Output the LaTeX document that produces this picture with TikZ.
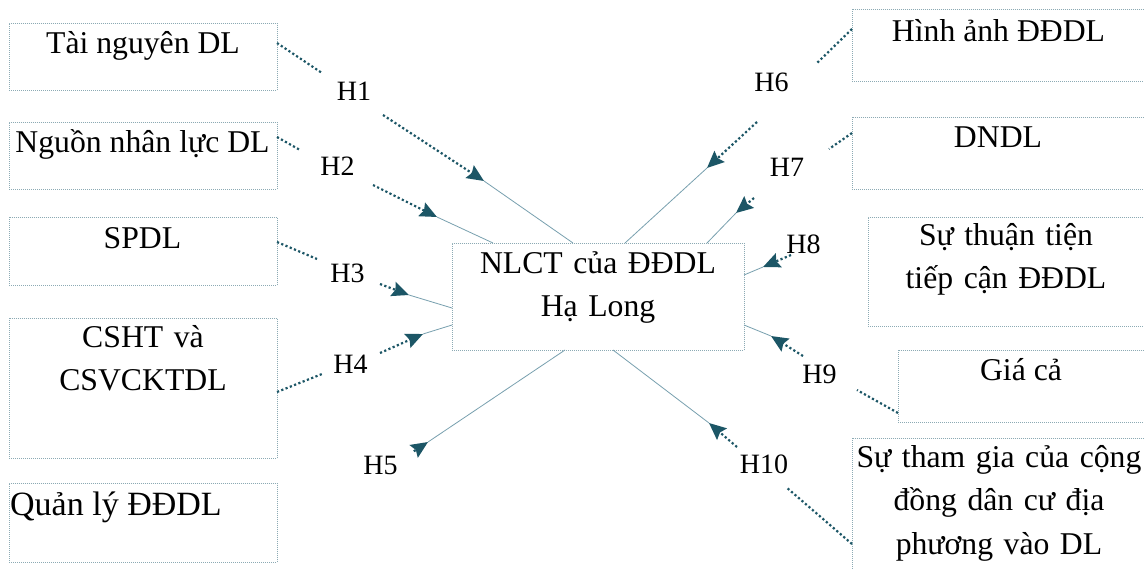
\documentclass[tikz,border=0pt]{standalone}
\usepackage{fontspec}
\setmainfont{Liberation Serif}
\usetikzlibrary{arrows.meta}
\definecolor{tealdark}{RGB}{28,86,102}
\definecolor{tealline}{RGB}{120,160,175}
\definecolor{boxline}{RGB}{140,170,180}
\begin{document}
\begin{tikzpicture}[x=1pt,y=-1pt,
  frame/.style={draw=boxline, line width=0.8pt, dash pattern=on 1pt off 1pt, inner sep=0pt, anchor=north west},
  txt/.style={inner sep=0pt, font=\fontsize{31.7}{43.5}\selectfont, anchor=base},
  mtxt/.style={txt, align=center, text width=#1},
  hl/.style={inner sep=0pt, font=\fontsize{28}{32}\selectfont, anchor=base},
  dots/.style={draw=tealdark, line width=2.2pt, dash pattern=on 2.2pt off 2.4pt},
  dotarrow/.style={dots, -{Stealth[length=17pt,width=15pt,inset=2.5pt]}},
  link/.style={draw=tealline, line width=0.8pt}]
\clip (0,0) rectangle (1144,568);
\fill[white] (0,0) rectangle (1144,568);

% ---------- boxes ----------
\node[frame, minimum width=268pt, minimum height=67pt]  (b1) at (9,23)  {};
\node[frame, minimum width=268pt, minimum height=67pt]  (b2) at (9,122) {};
\node[frame, minimum width=268pt, minimum height=68pt]  (b3) at (9,217) {};
\node[frame, minimum width=268pt, minimum height=140pt] (b4) at (9,318) {};
\node[frame, minimum width=268pt, minimum height=79pt]  (b5) at (9,483) {};
\node[frame, minimum width=292pt, minimum height=107pt] (c)  at (452,243) {};
\node[frame, minimum width=300pt, minimum height=72pt]  (b6) at (852,9)   {};
\node[frame, minimum width=300pt, minimum height=72pt]  (b7) at (852,117) {};
\node[frame, minimum width=284pt, minimum height=109pt] (b8) at (868,217) {};
\node[frame, minimum width=254pt, minimum height=72pt]  (b9) at (898,350) {};
\node[frame, minimum width=300pt, minimum height=160pt] (b10) at (852,438) {};

% ---------- box texts ----------
\node[txt] (l1) at (143,53) {Tài nguyên DL};
\node[txt] (l2) at (142.5,152) {Nguồn nhân lực DL};
\node[txt] (l3) at (142.5,248) {SPDL};
\node[mtxt=260pt] (l4) at (143,347) {CSHT và\\CSVCKTDL};
\node[txt, anchor=base west, font=\fontsize{34}{40}\selectfont] (l5) at (10,515) {Quản lý ĐĐDL};
\node[mtxt=280pt] (lc) at (598,273) {NLCT của ĐĐDL\\Hạ Long};
\node[txt] (l6) at (998.5,41) {Hình ảnh ĐĐDL};
\node[txt] (l7) at (998,147) {DNDL};
\node[mtxt=270pt] (l8) at (1006,245) {Sự thuận tiện\\tiếp cận ĐĐDL};
\node[txt] (l9) at (1021,380) {Giá cả};
\node[mtxt=290pt] (l10) at (999,467) {Sự tham gia của cộng\\đồng dân cư địa\\phương vào DL};

% ---------- H labels ----------
\node[hl] (h1) at (354,100) {H1};
\node[hl] (h2) at (337.5,175) {H2};
\node[hl] (h3) at (347.5,282) {H3};
\node[hl] (h4) at (350.5,373) {H4};
\node[hl] (h5) at (380.5,474) {H5};
\node[hl] (h6) at (771.5,91) {H6};
\node[hl] (h7) at (787,176) {H7};
\node[hl] (h8) at (803.5,253) {H8};
\node[hl] (h9) at (819.5,383) {H9};
\node[hl] (h10) at (764,473) {H10};

% ---------- connector points ----------
\coordinate (p1) at (277,43);  \coordinate (q1) at (322,73);  \coordinate (r1) at (383,115); \coordinate (t1) at (484,181); \coordinate (c1) at (573,243);
\coordinate (p2) at (277,137); \coordinate (q2) at (300,150); \coordinate (r2) at (373,185); \coordinate (t2) at (437,217); \coordinate (c2) at (493,243);
\coordinate (p3) at (277,242); \coordinate (q3) at (317,259); \coordinate (r3) at (380,284); \coordinate (t3) at (409,295); \coordinate (c3) at (452,308);
\coordinate (p4) at (277,392); \coordinate (q4) at (322,374); \coordinate (r4) at (380,353); \coordinate (t4) at (423,334); \coordinate (c4) at (452,325);
\coordinate (p5) at (277,528); \coordinate (q5) at (348,488); \coordinate (s5) at (413.8,451.3); \coordinate (t5) at (428,442); \coordinate (c5) at (565,350);
\coordinate (p6) at (852,29);  \coordinate (q6) at (817,63);  \coordinate (r6) at (757,122); \coordinate (t6) at (707,168); \coordinate (c6) at (625,243);
\coordinate (p7) at (852,133); \coordinate (q7) at (829,149); \coordinate (r7) at (754,198); \coordinate (t7) at (736,213); \coordinate (c7) at (707,243);
\coordinate (r8) at (791,255); \coordinate (t8) at (763,267); \coordinate (c8) at (744,275);
\coordinate (p9) at (898,413); \coordinate (q9) at (857,390); \coordinate (r9) at (803,356); \coordinate (t9) at (771,336); \coordinate (c9) at (744,325);
\coordinate (p10) at (852,544); \coordinate (q10) at (786,487); \coordinate (r10) at (737,447); \coordinate (t10) at (709,423); \coordinate (c10) at (613,350);

% ---------- connectors ----------
\foreach \i in {1,2,3,4,6,7,9,10} {
  \draw[dots] (p\i) -- (q\i);
}
\foreach \i in {1,2,3,4,6,7,8,9,10} {
  \draw[dotarrow] (r\i) -- (t\i);
  \draw[link] (t\i) -- (c\i);
}
\draw[dotarrow] (s5) -- (t5);
\draw[link] (t5) -- (c5);
\end{tikzpicture}
\end{document}
